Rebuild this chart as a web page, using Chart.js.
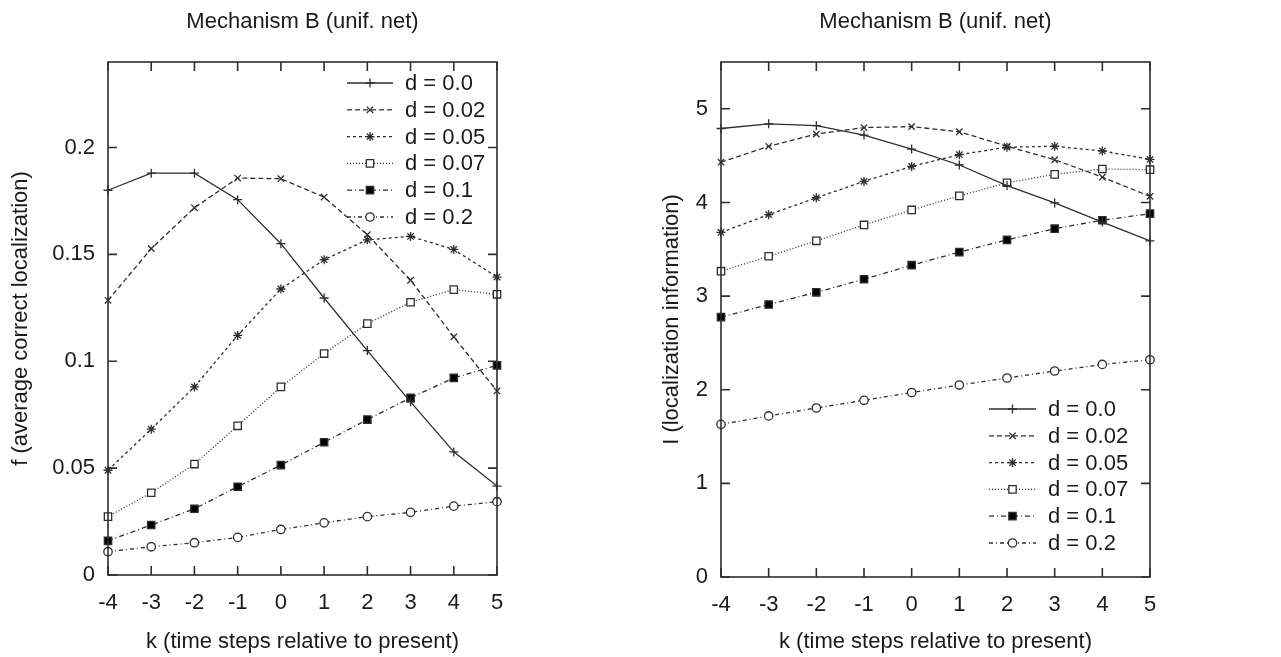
<!DOCTYPE html>
<html>
<head>
<meta charset="utf-8">
<script src="https://cdn.jsdelivr.net/npm/chart.js@4/dist/chart.umd.min.js"></script>
<style>
  html, body { margin: 0; padding: 0; background: #fff; }
  .box { position: absolute; top: 0; height: 657px; }
</style>
</head>
<body>
<div class="box" style="left:0;width:640px"><canvas id="left" width="640" height="657"></canvas></div>
<div class="box" style="left:640px;width:641px"><canvas id="right" width="641" height="657"></canvas></div>
<script>
// k values (time steps relative to present)
const kSteps = [-4, -3, -2, -1, 0, 1, 2, 3, 4, 5];
const seriesLabels = ['d = 0.0', 'd = 0.02', 'd = 0.05', 'd = 0.07', 'd = 0.1', 'd = 0.2'];

// left panel: f (average correct localization)
const fD000 = [0.180, 0.188, 0.188, 0.1756, 0.155, 0.1296, 0.105, 0.081, 0.0576, 0.0416];
const fD002 = [0.1285, 0.1527, 0.1718, 0.1857, 0.1854, 0.1768, 0.1592, 0.1379, 0.1114, 0.0861];
const fD005 = [0.049, 0.0682, 0.088, 0.1121, 0.1338, 0.1475, 0.1568, 0.1584, 0.1523, 0.1394];
const fD007 = [0.0273, 0.0385, 0.0519, 0.0698, 0.088, 0.1036, 0.1176, 0.1276, 0.1335, 0.1313];
const fD010 = [0.016, 0.0234, 0.031, 0.0413, 0.0514, 0.0621, 0.0727, 0.0829, 0.0922, 0.0981];
const fD020 = [0.0109, 0.0132, 0.0151, 0.0176, 0.0213, 0.0244, 0.0273, 0.0293, 0.0322, 0.0343];

// right panel: I (localization information)
const iD000 = [4.79, 4.84, 4.82, 4.72, 4.57, 4.40, 4.18, 3.995, 3.79, 3.59];
const iD002 = [4.43, 4.60, 4.73, 4.80, 4.81, 4.755, 4.60, 4.456, 4.27, 4.065];
const iD005 = [3.68, 3.87, 4.05, 4.225, 4.385, 4.51, 4.59, 4.60, 4.55, 4.46];
const iD007 = [3.266, 3.425, 3.59, 3.76, 3.92, 4.07, 4.21, 4.30, 4.357, 4.35];
const iD010 = [2.775, 2.91, 3.04, 3.18, 3.33, 3.47, 3.60, 3.72, 3.81, 3.88];
const iD020 = [1.63, 1.72, 1.805, 1.887, 1.97, 2.05, 2.125, 2.20, 2.27, 2.32];

const fTicks = [0, 0.05, 0.1, 0.15, 0.2];
const iTicks = [0, 1, 2, 3, 4, 5];

// gnuplot-ish look
const INK = '#2e2e2e';
const TEXT = '#1a1a1a';
const FONT = '"Liberation Sans", Arial, sans-serif';
const FSIZE = 22;
const seriesDash = [[], [5, 3], [3, 3], [1, 2], [5, 3, 1, 3], [4, 3, 1, 3]];
const seriesMarker = ['cross', 'crossRot', 'star', 'rect', 'rect', 'circle'];
const seriesFill = ['#fff', '#fff', '#fff', '#fff', '#000', '#fff'];
const seriesRadius = [4.5, 4.5, 4.5, 5.2, 5.2, 4.2];

function drawMarker(ctx, style, x, y, r, fill) {
    ctx.save();
    ctx.setLineDash([]);
    ctx.lineWidth = 1.3;
    ctx.strokeStyle = INK;
    ctx.fillStyle = fill;
    ctx.beginPath();
    if (style === 'cross' || style === 'star') {
        ctx.moveTo(x - r, y); ctx.lineTo(x + r, y);
        ctx.moveTo(x, y - r); ctx.lineTo(x, y + r);
    }
    if (style === 'crossRot' || style === 'star') {
        const o = r * Math.SQRT1_2;
        ctx.moveTo(x - o, y - o); ctx.lineTo(x + o, y + o);
        ctx.moveTo(x - o, y + o); ctx.lineTo(x + o, y - o);
    }
    if (style === 'rect') {
        const s = r * Math.SQRT1_2;
        ctx.rect(x - s, y - s, 2 * s, 2 * s);
        ctx.fill();
    }
    if (style === 'circle') {
        ctx.arc(x, y, r, 0, Math.PI * 2);
        ctx.fill();
    }
    ctx.stroke();
    ctx.restore();
}

const gnuplotFrame = {
    id: 'gnuplotFrame',
    afterDatasetsDraw(chart, args, opts) {
        const { ctx, chartArea: a, scales } = chart;
        ctx.save();
        ctx.strokeStyle = INK;
        ctx.lineWidth = 1.6;
        ctx.strokeRect(a.left, a.top, a.right - a.left, a.bottom - a.top);

        // inward ticks on all four sides
        const tl = 9;
        ctx.beginPath();
        kSteps.forEach((k, i) => {
            const x = scales.x.getPixelForValue(i);
            ctx.moveTo(x, a.bottom); ctx.lineTo(x, a.bottom - tl);
            ctx.moveTo(x, a.top); ctx.lineTo(x, a.top + tl);
        });
        opts.yTicks.forEach(v => {
            const y = scales.y.getPixelForValue(v);
            ctx.moveTo(a.left, y); ctx.lineTo(a.left + tl, y);
            ctx.moveTo(a.right, y); ctx.lineTo(a.right - tl, y);
        });
        ctx.stroke();

        // texts
        const cx = (a.left + a.right) / 2;
        ctx.fillStyle = TEXT;
        ctx.font = FSIZE + 'px ' + FONT;
        ctx.textAlign = 'center';
        ctx.textBaseline = 'middle';
        ctx.fillText(opts.title, cx, 22);
        ctx.fillText(opts.xTitle, cx, 642);
        ctx.save();
        ctx.translate(opts.yTitleX, (a.top + a.bottom) / 2);
        ctx.rotate(-Math.PI / 2);
        ctx.fillText(opts.yTitle, 0, 0);
        ctx.restore();

        // legend inside plot
        const lg = opts.legend;
        chart.data.datasets.forEach((ds, i) => {
            const y = lg.top + i * lg.step;
            ctx.save();
            ctx.strokeStyle = INK;
            ctx.lineWidth = 1.3;
            ctx.setLineDash(ds.borderDash);
            ctx.beginPath();
            ctx.moveTo(lg.x0, y); ctx.lineTo(lg.x1, y);
            ctx.stroke();
            ctx.restore();
            drawMarker(ctx, ds.pointStyle, (lg.x0 + lg.x1) / 2, y, ds.pointRadius, ds.pointBackgroundColor);
            ctx.textAlign = 'left';
            ctx.fillText(ds.label, lg.text, y + 1);
        });
        ctx.restore();
    }
};

function makeChart(id, seriesList, cfg) {
    const datasets = seriesList.map((vals, i) => ({
        label: seriesLabels[i],
        data: vals,
        borderColor: INK,
        borderWidth: 1.3,
        borderDash: seriesDash[i],
        pointStyle: seriesMarker[i],
        pointRadius: seriesRadius[i],
        pointBackgroundColor: seriesFill[i],
        pointBorderColor: INK,
        pointBorderWidth: 1.3,
        tension: 0,
        fill: false,
        clip: false
    }));

    return new Chart(document.getElementById(id), {
        type: 'line',
        data: { labels: kSteps, datasets: datasets },
        options: {
            responsive: false,
            animation: false,
            layout: { padding: { left: 0, top: cfg.top, right: cfg.padRight, bottom: 0 } },
            plugins: {
                legend: { display: false },
                title: { display: false },
                tooltip: { enabled: false },
                gnuplotFrame: cfg.frame
            },
            scales: {
                x: {
                    grid: { display: false, drawTicks: false },
                    border: { display: false },
                    ticks: { font: { family: FONT, size: FSIZE }, color: TEXT, padding: 15, maxRotation: 0, autoSkip: false },
                    afterFit: (s) => { s.height = 657 - cfg.bottom; }
                },
                y: {
                    min: 0,
                    max: cfg.yMax,
                    grid: { display: false, drawTicks: false },
                    border: { display: false },
                    ticks: {
                        font: { family: FONT, size: FSIZE }, color: TEXT, padding: 13,
                        callback: (v) => String(v)
                    },
                    afterBuildTicks: (s) => { s.ticks = cfg.frame.yTicks.map(v => ({ value: v })); },
                    afterFit: (s) => { s.width = cfg.left; }
                }
            }
        },
        plugins: [gnuplotFrame]
    });
}

makeChart('left', [fD000, fD002, fD005, fD007, fD010, fD020], {
    top: 62, bottom: 575, left: 108, padRight: 640 - 497, yMax: 0.24,
    frame: {
        yTicks: fTicks,
        title: 'Mechanism B (unif. net)',
        xTitle: 'k (time steps relative to present)',
        yTitle: 'f (average correct localization)',
        yTitleX: 21,
        legend: { x0: 347, x1: 393, text: 405, top: 83, step: 26.8 }
    }
});

makeChart('right', [iD000, iD002, iD005, iD007, iD010, iD020], {
    top: 62, bottom: 577, left: 81, padRight: 641 - 510, yMax: 5.5,
    frame: {
        yTicks: iTicks,
        title: 'Mechanism B (unif. net)',
        xTitle: 'k (time steps relative to present)',
        yTitle: 'I (localization information)',
        yTitleX: 32,
        legend: { x0: 349, x1: 396, text: 408, top: 409, step: 26.8 }
    }
});
</script>
</body>
</html>
